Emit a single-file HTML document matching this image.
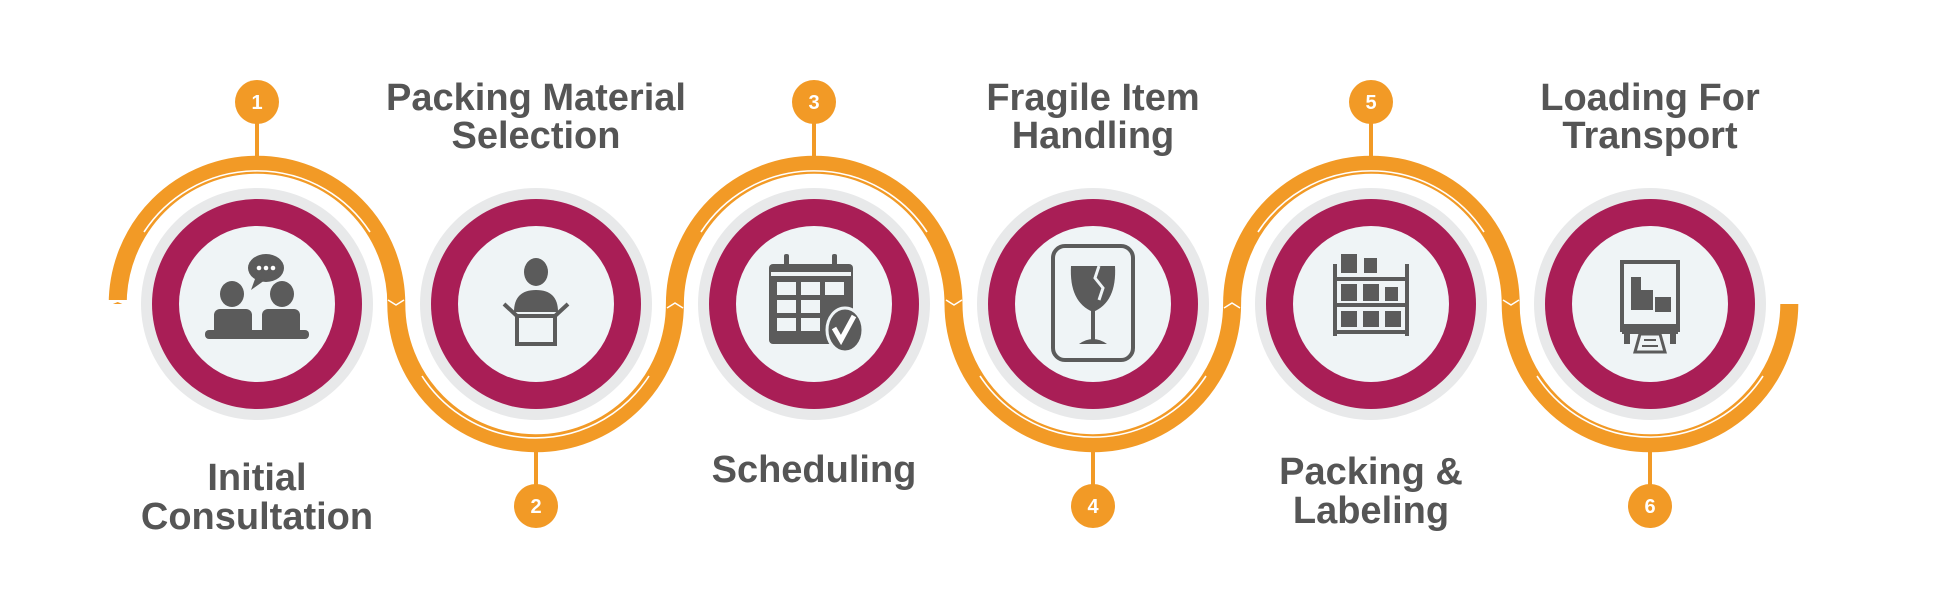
<!DOCTYPE html>
<html><head><meta charset="utf-8"><style>
html,body{margin:0;padding:0;background:#fff;}
svg{display:block;}
text{font-family:"Liberation Sans",sans-serif;}
</style></head><body>
<svg width="1960" height="608" viewBox="0 0 1960 608" xmlns="http://www.w3.org/2000/svg">
<defs>
<g id="ring">
<circle r="116" fill="#E8E9EA"/>
<circle r="105" fill="#A91E56"/>
<circle r="78" fill="#EFF4F6"/>
</g>
</defs>
<path d="M117.7,304 A139.3,139.3 0 0 1 396.3,304 A139.3,139.3 0 0 0 674.9,304 A139.3,139.3 0 0 1 953.5,304 A139.3,139.3 0 0 0 1232.1,304 A139.3,139.3 0 0 1 1510.7,304 A139.3,139.3 0 0 0 1789.3,304" fill="none" stroke="#F29A26" stroke-width="18"/>
<polygon points="108,300 127,300 127,306 117.7,302 108,306" fill="#fff"/>
<polygon points="1780,300 1792,292 1800,296 1800,300" fill="#fff"/>
<g fill="none" stroke="#fff" stroke-width="1.6">
<path d="M144,232 A135,135 0 0 1 370,232"/>
<path d="M422,376 A135,135 0 0 0 649,376"/>
<path d="M701,232 A135,135 0 0 1 927,232"/>
<path d="M980,376 A135,135 0 0 0 1206,376"/>
<path d="M1258,232 A135,135 0 0 1 1484,232"/>
<path d="M1537,376 A135,135 0 0 0 1763,376"/>
</g>
<g fill="none" stroke="#fff" stroke-width="1.5">
<polyline points="388,300 396,305 404,300"/>
<polyline points="667,308 675,303 683,308"/>
<polyline points="946,300 954,305 962,300"/>
<polyline points="1224,308 1232,303 1240,308"/>
<polyline points="1503,300 1511,305 1519,300"/>
</g>
<g stroke="#F29A26" stroke-width="4">
<line x1="257" y1="120" x2="257" y2="160"/>
<line x1="814" y1="120" x2="814" y2="160"/>
<line x1="1371" y1="120" x2="1371" y2="160"/>
<line x1="536" y1="448" x2="536" y2="490"/>
<line x1="1093" y1="448" x2="1093" y2="490"/>
<line x1="1650" y1="448" x2="1650" y2="490"/>
</g>
<g fill="#F29A26">
<circle cx="257" cy="102" r="22"/><circle cx="814" cy="102" r="22"/><circle cx="1371" cy="102" r="22"/>
<circle cx="536" cy="506" r="22"/><circle cx="1093" cy="506" r="22"/><circle cx="1650" cy="506" r="22"/>
</g>
<g fill="#fff" font-size="20" font-weight="bold" text-anchor="middle">
<text x="257" y="109">1</text><text x="536" y="513">2</text><text x="814" y="109">3</text>
<text x="1093" y="513">4</text><text x="1371" y="109">5</text><text x="1650" y="513">6</text>
</g>
<use href="#ring" x="257" y="304"/>
<use href="#ring" x="536" y="304"/>
<use href="#ring" x="814" y="304"/>
<use href="#ring" x="1093" y="304"/>
<use href="#ring" x="1371" y="304"/>
<use href="#ring" x="1650" y="304"/>
<g fill="#5B5B5B">
<g transform="translate(257,304)">
<ellipse cx="9" cy="-36" rx="18" ry="14"/><polygon points="-2,-25 -6,-14 8,-24"/>
<circle cx="2" cy="-36" r="2.3" fill="#fff"/><circle cx="9" cy="-36" r="2.3" fill="#fff"/><circle cx="16" cy="-36" r="2.3" fill="#fff"/>
<ellipse cx="-25" cy="-10" rx="12" ry="13"/><ellipse cx="25" cy="-10" rx="12" ry="13"/>
<rect x="-43" y="5" width="38" height="28" rx="6"/><rect x="5" y="5" width="38" height="28" rx="6"/>
<rect x="-52" y="26" width="104" height="9" rx="4"/>
</g>
<g transform="translate(536,304)">
<ellipse cx="0" cy="-32" rx="12" ry="14"/>
<path d="M-22,8 Q-22,-14 0,-14 Q22,-14 22,8 Z"/>
<rect x="-19" y="12" width="38" height="28" fill="none" stroke="#5B5B5B" stroke-width="4"/>
<line x1="-19" y1="12" x2="-32" y2="0" stroke="#5B5B5B" stroke-width="4"/>
<line x1="19" y1="12" x2="32" y2="0" stroke="#5B5B5B" stroke-width="4"/>
</g>
<g transform="translate(814,304)">
<rect x="-45" y="-40" width="84" height="80" rx="4"/>
<g fill="#EFF4F6">
<rect x="-37" y="-22" width="19" height="13"/><rect x="-13" y="-22" width="19" height="13"/><rect x="11" y="-22" width="19" height="13"/>
<rect x="-37" y="-4" width="19" height="13"/><rect x="-13" y="-4" width="19" height="13"/>
<rect x="-37" y="14" width="19" height="13"/><rect x="-13" y="14" width="19" height="13"/>
</g>
<rect x="-43" y="-32" width="80" height="4" fill="#EFF4F6"/>
<ellipse cx="31" cy="26" rx="18" ry="22" stroke="#EFF4F6" stroke-width="3"/>
<polyline points="20,24 27,36 40,12" fill="none" stroke="#fff" stroke-width="5"/>
<rect x="-30" y="-50" width="5" height="16" rx="2"/><rect x="18" y="-50" width="5" height="16" rx="2"/>
</g>
<g transform="translate(1093,304)">
<rect x="-40" y="-58" width="80" height="114" rx="12" fill="none" stroke="#5B5B5B" stroke-width="4"/>
<path d="M-22,-38 L22,-38 Q24,-2 0,8 Q-24,-2 -22,-38 Z"/>
<polyline points="6,-38 2,-26 10,-16 6,-4" fill="none" stroke="#EFF4F6" stroke-width="3"/>
<rect x="-2" y="6" width="4" height="30"/>
<path d="M-14,40 Q0,30 14,40 Z"/>
</g>
<g transform="translate(1371,304)">
<rect x="-38" y="-40" width="4" height="72"/><rect x="34" y="-40" width="4" height="72"/>
<rect x="-38" y="-27" width="76" height="4"/><rect x="-38" y="-1" width="76" height="4"/><rect x="-38" y="26" width="76" height="4"/>
<rect x="-30" y="-50" width="16" height="19"/><rect x="-7" y="-46" width="13" height="15"/>
<rect x="-30" y="-20" width="16" height="17"/><rect x="-8" y="-20" width="16" height="17"/><rect x="14" y="-17" width="13" height="14"/>
<rect x="-30" y="7" width="16" height="16"/><rect x="-8" y="7" width="16" height="16"/><rect x="14" y="7" width="16" height="16"/>
</g>
<g transform="translate(1650,304)">
<rect x="-28" y="-42" width="56" height="68" fill="none" stroke="#5B5B5B" stroke-width="4"/>
<rect x="-28" y="20" width="56" height="10"/>
<rect x="-26" y="26" width="6" height="14"/><rect x="20" y="26" width="6" height="14"/>
<rect x="-19" y="-27" width="10" height="14"/><rect x="-19" y="-14" width="22" height="20"/><rect x="5" y="-7" width="16" height="15"/>
<path d="M-10,30 L10,30 L15,48 L-15,48 Z" fill="#EFF4F6" stroke="#5B5B5B" stroke-width="3"/>
<line x1="-6" y1="36" x2="6" y2="36" stroke="#5B5B5B" stroke-width="2"/><line x1="-8" y1="42" x2="8" y2="42" stroke="#5B5B5B" stroke-width="2"/>
</g>
</g>
<g fill="#555" font-size="38" font-weight="bold" text-anchor="middle">
<text x="536" y="110">Packing Material</text><text x="536" y="148">Selection</text>
<text x="1093" y="110">Fragile Item</text><text x="1093" y="148">Handling</text>
<text x="1650" y="110">Loading For</text><text x="1650" y="148">Transport</text>
<text x="257" y="490">Initial</text><text x="257" y="529">Consultation</text>
<text x="814" y="482">Scheduling</text>
<text x="1371" y="484">Packing &amp;</text><text x="1371" y="523">Labeling</text>
</g>
</svg>
</body></html>
